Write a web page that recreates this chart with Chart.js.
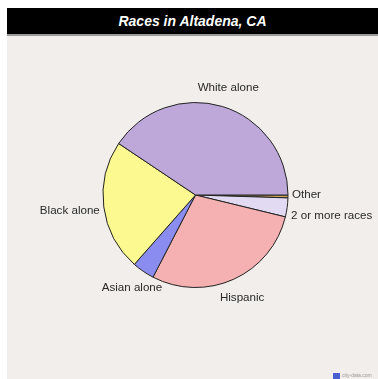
<!DOCTYPE html>
<html>
<head>
<meta charset="utf-8">
<script src="https://cdn.jsdelivr.net/npm/chart.js@4/dist/chart.umd.min.js"></script>
<style>
  html, body { margin: 0; padding: 0; background: #ffffff; }
  #wrap { position: absolute; left: 7px; top: 8px; width: 371px; height: 371px; background: #f1eeeb; }
  #title { height: 26px; background: #000; color: #fff; font: italic bold 14px "Liberation Sans", Arial, sans-serif;
    text-align: center; line-height: 26px; border-bottom: 2px solid #9a9a9a; }
  #box { position: absolute; left: 0; top: 28px; width: 371px; height: 342px; }
  #credit { position: absolute; left: 326px; top: 364px; font: 5px "Liberation Sans", Arial, sans-serif; color: #999; }
  #credit span { display: inline-block; width: 7px; height: 6px; background: #4a5fd0; vertical-align: middle; margin-right: 2px; }
</style>
</head>
<body>
<div id="wrap">
  <div id="title">Races in Altadena, CA</div>
  <div id="box"><canvas id="pie"></canvas></div>
  <div id="credit"><span></span>city-data.com</div>
</div>
<script>
// clockwise from 3 o'clock
var raceLabels = ['Other', '2 or more races', 'Hispanic', 'Asian alone', 'Black alone', 'White alone'];
var racePercents = [0.5, 3.3, 28.8, 3.9, 22.9, 40.6];
var raceColors = ['#c9a25e', '#e2daf2', '#f5b1b1', '#8a8cef', '#fbf98f', '#bea8da'];

var outsideLabels = {
  id: 'outsideLabels',
  afterDatasetsDraw: function(chart) {
    var ctx = chart.ctx;
    var arcs = chart.getDatasetMeta(0).data;
    var items = [];
    arcs.forEach(function(arc, i) {
      var mid = (arc.startAngle + arc.endAngle) / 2;
      var c = Math.cos(mid), s = Math.sin(mid);
      var side = Math.abs(c) >= 0.6;
      var k = side ? 4 : 20;
      var x = arc.x + (arc.outerRadius + k) * c;
      var y = arc.y + (arc.outerRadius + k) * s + (side ? 3 : 0);
      var align = side ? (c > 0 ? 'left' : 'right') : 'center';
      items.push({ text: raceLabels[i], x: x, y: y, align: align });
    });
    // spread crowded labels on the right side
    var right = items.filter(function(it) { return it.align === 'left'; }).sort(function(a, b) { return a.y - b.y; });
    for (var j = 1; j < right.length; j++) {
      if (right[j].y - right[j - 1].y < 21) {
        var d = (21 - (right[j].y - right[j - 1].y)) / 2;
        right[j - 1].y -= d;
        right[j].y += d;
      }
    }
    ctx.save();
    ctx.font = '11.6px "Liberation Sans", Arial, sans-serif';
    ctx.fillStyle = '#2a2a2a';
    ctx.textBaseline = 'middle';
    items.forEach(function(it) {
      ctx.textAlign = it.align;
      ctx.fillText(it.text, it.x, it.y);
    });
    ctx.restore();
  }
};

new Chart(document.getElementById('pie'), {
  type: 'pie',
  data: {
    labels: raceLabels,
    datasets: [{
      data: racePercents,
      backgroundColor: raceColors,
      borderColor: '#222222',
      borderWidth: 1
    }]
  },
  options: {
    responsive: true,
    maintainAspectRatio: false,
    animation: false,
    rotation: 90,
    layout: { padding: { left: 95, right: 89, top: 66, bottom: 90 } },
    plugins: {
      legend: { display: false },
      tooltip: { enabled: false }
    }
  },
  plugins: [outsideLabels]
});
</script>
</body>
</html>
